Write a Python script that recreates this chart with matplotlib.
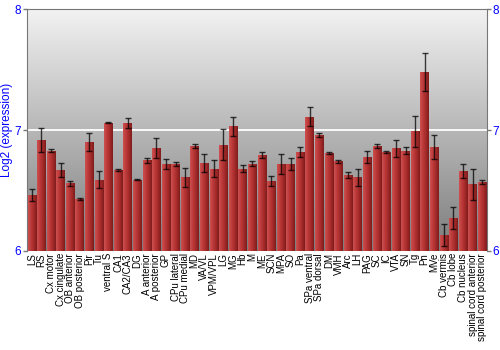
import matplotlib.pyplot as plt
import numpy as np
from matplotlib.colors import LinearSegmentedColormap

regions = [
    "LS", "RS", "Cx motor", "Cx cingulate", "OB anterior", "OB posterior",
    "Pir", "Tu", "ventral S", "CA1", "CA2/CA3", "DG", "A anterior",
    "A posterior", "GP", "CPu lateral", "CPu medial", "MD", "VA/VL",
    "VPM/VPL", "LG", "MG", "Hb", "M", "ME", "SCN", "MPA", "SO", "Pa",
    "SPa ventral", "SPa dorsal", "DM", "VMH", "Arc", "LH", "PAG", "SC",
    "IC", "VTA", "SN", "Tg", "Pn", "MVe", "Cb vermis", "Cb lobe",
    "Cb nucleus", "spinal cord anterior", "spinal cord posterior",
]
expression = [
    6.46, 6.92, 6.83, 6.67, 6.56, 6.43, 6.90, 6.59, 7.06, 6.67, 7.06, 6.59,
    6.75, 6.85, 6.72, 6.72, 6.61, 6.87, 6.73, 6.68, 6.88, 7.03, 6.68, 6.72,
    6.79, 6.58, 6.72, 6.72, 6.82, 7.11, 6.96, 6.81, 6.74, 6.63, 6.61, 6.78,
    6.87, 6.82, 6.85, 6.83, 6.99, 7.48, 6.86, 6.13, 6.27, 6.66, 6.55, 6.57,
]
error = [
    0.05, 0.10, 0.01, 0.055, 0.02, 0.005, 0.075, 0.07, 0.005, 0.01, 0.04, 0.005,
    0.02, 0.085, 0.04, 0.015, 0.08, 0.015, 0.075, 0.07, 0.13, 0.08, 0.03, 0.02,
    0.025, 0.04, 0.08, 0.05, 0.04, 0.08, 0.015, 0.01, 0.01, 0.025, 0.07, 0.05,
    0.015, 0.01, 0.07, 0.03, 0.13, 0.155, 0.10, 0.09, 0.09, 0.06, 0.13, 0.015,
]

YMIN, YMAX = 6, 8
BAR_W = 0.88
BLUE = "#0000ff"

fig = plt.figure(figsize=(5, 3.5), dpi=100)
ax = fig.add_axes([0.054, 0.283, 0.92, 0.691])
x = np.arange(len(regions))
ax.set_xlim(-0.5, len(regions) - 0.5)
ax.set_ylim(YMIN, YMAX)

# gray vertical gradient background
bg = LinearSegmentedColormap.from_list("bg", ["#7c7c7c", "#f2f2f2"])
ax.imshow(np.linspace(0, 1, 256).reshape(-1, 1), cmap=bg, aspect="auto",
          extent=[-0.5, len(regions) - 0.5, YMIN, YMAX], origin="lower", zorder=0)
ax.axhline(7, color="white", lw=1.3, zorder=1)

# bars with horizontal shading
bar_cmap = LinearSegmentedColormap.from_list(
    "bar", ["#cf5050", "#bb3a3a", "#a42a2a", "#7e1c1c"])
bars = ax.bar(x, np.array(expression) - YMIN, bottom=YMIN, width=BAR_W,
              color="#b03535", zorder=2)
grad = np.linspace(0, 1, 64).reshape(1, -1)
for b in bars:
    im = ax.imshow(grad, cmap=bar_cmap, aspect="auto", zorder=2.5,
                   extent=[b.get_x(), b.get_x() + b.get_width(),
                           YMIN, YMIN + b.get_height()])
    im.set_clip_path(b)

ax.errorbar(x, expression, yerr=error, fmt="none", ecolor="black",
            elinewidth=1, capsize=2.2, capthick=1, alpha=0.75, zorder=3)

ax.set_xticks(x)
ax.set_xticklabels(regions, rotation=90, fontsize=7,
                   family="Liberation Sans", linespacing=1.0)
ax.tick_params(axis="x", length=0, pad=1.5)
ax.set_yticks([6, 7, 8])
ax.tick_params(axis="y", colors="#777777", labelcolor=BLUE, labelsize=8.5,
               length=3, width=1, left=True, right=True, labelright=True, pad=1)
for lab in ax.get_yticklabels():
    lab.set_family("Liberation Sans")
ax.set_ylabel("Log2 (expression)", color=BLUE, fontsize=8.5,
              family="Liberation Sans", labelpad=1)
for s in ax.spines.values():
    s.set_color("#777777")
ax.spines["bottom"].set_visible(False)

fig.savefig("out.png", dpi=100)
